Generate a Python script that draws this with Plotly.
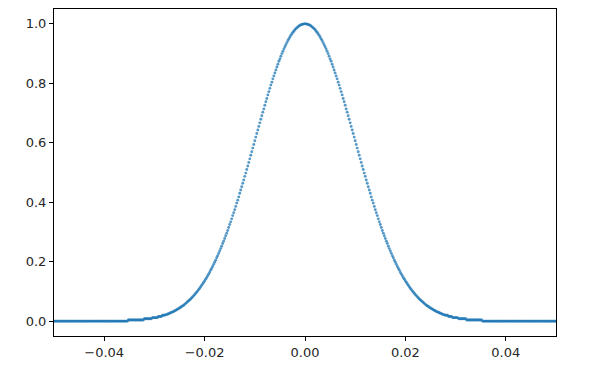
import plotly.graph_objects as go

# sample positions (x) and normalised intensity
position = [
    -0.05, -0.0498, -0.0496, -0.0494, -0.0492, -0.049, -0.0488, -0.0486, -0.0484, -0.0482,
    -0.048, -0.0478, -0.0476, -0.0474, -0.0472, -0.047, -0.0468, -0.0466, -0.0464, -0.0462,
    -0.046, -0.0458, -0.0456, -0.0454, -0.0452, -0.045, -0.0448, -0.0446, -0.0444, -0.0442,
    -0.044, -0.0438, -0.0436, -0.0434, -0.0432, -0.043, -0.0428, -0.0426, -0.0424, -0.0422,
    -0.042, -0.0418, -0.0416, -0.0414, -0.0412, -0.041, -0.0408, -0.0406, -0.0404, -0.0402,
    -0.04, -0.0398, -0.0396, -0.0394, -0.0392, -0.039, -0.0388, -0.0386, -0.0384, -0.0382,
    -0.038, -0.0378, -0.0376, -0.0374, -0.0372, -0.037, -0.0368, -0.0366, -0.0364, -0.0362,
    -0.036, -0.0358, -0.0356, -0.0354, -0.0352, -0.035, -0.0348, -0.0346, -0.0344, -0.0342,
    -0.034, -0.0338, -0.0336, -0.0334, -0.0332, -0.033, -0.0328, -0.0326, -0.0324, -0.0322,
    -0.032, -0.0318, -0.0316, -0.0314, -0.0312, -0.031, -0.0308, -0.0306, -0.0304, -0.0302,
    -0.03, -0.0298, -0.0296, -0.0294, -0.0292, -0.029, -0.0288, -0.0286, -0.0284, -0.0282,
    -0.028, -0.0278, -0.0276, -0.0274, -0.0272, -0.027, -0.0268, -0.0266, -0.0264, -0.0262,
    -0.026, -0.0258, -0.0256, -0.0254, -0.0252, -0.025, -0.0248, -0.0246, -0.0244, -0.0242,
    -0.024, -0.0238, -0.0236, -0.0234, -0.0232, -0.023, -0.0228, -0.0226, -0.0224, -0.0222,
    -0.022, -0.0218, -0.0216, -0.0214, -0.0212, -0.021, -0.0208, -0.0206, -0.0204, -0.0202,
    -0.02, -0.0198, -0.0196, -0.0194, -0.0192, -0.019, -0.0188, -0.0186, -0.0184, -0.0182,
    -0.018, -0.0178, -0.0176, -0.0174, -0.0172, -0.017, -0.0168, -0.0166, -0.0164, -0.0162,
    -0.016, -0.0158, -0.0156, -0.0154, -0.0152, -0.015, -0.0148, -0.0146, -0.0144, -0.0142,
    -0.014, -0.0138, -0.0136, -0.0134, -0.0132, -0.013, -0.0128, -0.0126, -0.0124, -0.0122,
    -0.012, -0.0118, -0.0116, -0.0114, -0.0112, -0.011, -0.0108, -0.0106, -0.0104, -0.0102,
    -0.01, -0.0098, -0.0096, -0.0094, -0.0092, -0.009, -0.0088, -0.0086, -0.0084, -0.0082,
    -0.008, -0.0078, -0.0076, -0.0074, -0.0072, -0.007, -0.0068, -0.0066, -0.0064, -0.0062,
    -0.006, -0.0058, -0.0056, -0.0054, -0.0052, -0.005, -0.0048, -0.0046, -0.0044, -0.0042,
    -0.004, -0.0038, -0.0036, -0.0034, -0.0032, -0.003, -0.0028, -0.0026, -0.0024, -0.0022,
    -0.002, -0.0018, -0.0016, -0.0014, -0.0012, -0.001, -0.0008, -0.0006, -0.0004, -0.0002,
    0.0,
    0.0002, 0.0004, 0.0006, 0.0008, 0.001, 0.0012, 0.0014, 0.0016, 0.0018, 0.002,
    0.0022, 0.0024, 0.0026, 0.0028, 0.003, 0.0032, 0.0034, 0.0036, 0.0038, 0.004,
    0.0042, 0.0044, 0.0046, 0.0048, 0.005, 0.0052, 0.0054, 0.0056, 0.0058, 0.006,
    0.0062, 0.0064, 0.0066, 0.0068, 0.007, 0.0072, 0.0074, 0.0076, 0.0078, 0.008,
    0.0082, 0.0084, 0.0086, 0.0088, 0.009, 0.0092, 0.0094, 0.0096, 0.0098, 0.01,
    0.0102, 0.0104, 0.0106, 0.0108, 0.011, 0.0112, 0.0114, 0.0116, 0.0118, 0.012,
    0.0122, 0.0124, 0.0126, 0.0128, 0.013, 0.0132, 0.0134, 0.0136, 0.0138, 0.014,
    0.0142, 0.0144, 0.0146, 0.0148, 0.015, 0.0152, 0.0154, 0.0156, 0.0158, 0.016,
    0.0162, 0.0164, 0.0166, 0.0168, 0.017, 0.0172, 0.0174, 0.0176, 0.0178, 0.018,
    0.0182, 0.0184, 0.0186, 0.0188, 0.019, 0.0192, 0.0194, 0.0196, 0.0198, 0.02,
    0.0202, 0.0204, 0.0206, 0.0208, 0.021, 0.0212, 0.0214, 0.0216, 0.0218, 0.022,
    0.0222, 0.0224, 0.0226, 0.0228, 0.023, 0.0232, 0.0234, 0.0236, 0.0238, 0.024,
    0.0242, 0.0244, 0.0246, 0.0248, 0.025, 0.0252, 0.0254, 0.0256, 0.0258, 0.026,
    0.0262, 0.0264, 0.0266, 0.0268, 0.027, 0.0272, 0.0274, 0.0276, 0.0278, 0.028,
    0.0282, 0.0284, 0.0286, 0.0288, 0.029, 0.0292, 0.0294, 0.0296, 0.0298, 0.03,
    0.0302, 0.0304, 0.0306, 0.0308, 0.031, 0.0312, 0.0314, 0.0316, 0.0318, 0.032,
    0.0322, 0.0324, 0.0326, 0.0328, 0.033, 0.0332, 0.0334, 0.0336, 0.0338, 0.034,
    0.0342, 0.0344, 0.0346, 0.0348, 0.035, 0.0352, 0.0354, 0.0356, 0.0358, 0.036,
    0.0362, 0.0364, 0.0366, 0.0368, 0.037, 0.0372, 0.0374, 0.0376, 0.0378, 0.038,
    0.0382, 0.0384, 0.0386, 0.0388, 0.039, 0.0392, 0.0394, 0.0396, 0.0398, 0.04,
    0.0402, 0.0404, 0.0406, 0.0408, 0.041, 0.0412, 0.0414, 0.0416, 0.0418, 0.042,
    0.0422, 0.0424, 0.0426, 0.0428, 0.043, 0.0432, 0.0434, 0.0436, 0.0438, 0.044,
    0.0442, 0.0444, 0.0446, 0.0448, 0.045, 0.0452, 0.0454, 0.0456, 0.0458, 0.046,
    0.0462, 0.0464, 0.0466, 0.0468, 0.047, 0.0472, 0.0474, 0.0476, 0.0478, 0.048,
    0.0482, 0.0484, 0.0486, 0.0488, 0.049, 0.0492, 0.0494, 0.0496, 0.0498, 0.05,
]

intensity = [
    0, 0, 0, 0, 0, 0, 0, 0, 0, 0,
    0, 0, 0, 0, 0, 0, 0, 0, 0, 0,
    0, 0, 0, 0, 0, 0, 0, 0, 0, 0,
    0, 0, 0, 0, 0, 0, 0, 0, 0, 0,
    0, 0, 0, 0, 0, 0, 0, 0, 0, 0,
    0, 0, 0, 0, 0, 0, 0, 0, 0, 0,
    0, 0, 0, 0, 0, 0, 0, 0, 0, 0,
    0, 0, 0, 0, 0.0039, 0.0039, 0.0039, 0.0039, 0.0039, 0.0039,
    0.0039, 0.0039, 0.0039, 0.0039, 0.0039, 0.0039, 0.0039, 0.0039, 0.0039, 0.0039,
    0.0078, 0.0078, 0.0078, 0.0078, 0.0078, 0.0078, 0.0078, 0.0078, 0.0118, 0.0118,
    0.0118, 0.0118, 0.0118, 0.0118, 0.0157, 0.0157, 0.0157, 0.0157, 0.0196, 0.0196,
    0.0196, 0.021, 0.022, 0.023, 0.025, 0.026, 0.028, 0.029, 0.031, 0.032,
    0.034, 0.036, 0.038, 0.040, 0.042, 0.044, 0.046, 0.049, 0.051, 0.053,
    0.056, 0.059, 0.062, 0.065, 0.068, 0.071, 0.074, 0.078, 0.081, 0.085,
    0.089, 0.093, 0.097, 0.101, 0.106, 0.110, 0.115, 0.120, 0.125, 0.130,
    0.135, 0.141, 0.146, 0.152, 0.158, 0.164, 0.171, 0.177, 0.184, 0.191,
    0.198, 0.205, 0.213, 0.220, 0.228, 0.236, 0.244, 0.252, 0.261, 0.269,
    0.278, 0.287, 0.296, 0.305, 0.315, 0.325, 0.334, 0.344, 0.355, 0.365,
    0.375, 0.386, 0.397, 0.407, 0.418, 0.430, 0.441, 0.452, 0.464, 0.475,
    0.487, 0.498, 0.510, 0.522, 0.534, 0.546, 0.558, 0.570, 0.582, 0.594,
    0.607, 0.619, 0.631, 0.643, 0.655, 0.667, 0.679, 0.691, 0.703, 0.714,
    0.726, 0.738, 0.749, 0.761, 0.772, 0.783, 0.794, 0.804, 0.815, 0.825,
    0.835, 0.845, 0.855, 0.864, 0.874, 0.882, 0.891, 0.900, 0.908, 0.916,
    0.923, 0.930, 0.937, 0.944, 0.950, 0.956, 0.962, 0.967, 0.972, 0.976,
    0.980, 0.984, 0.987, 0.990, 0.993, 0.995, 0.997, 0.998, 0.999, 1.000,
    1.000,
    1.000, 0.999, 0.998, 0.997, 0.995, 0.993, 0.990, 0.987, 0.984, 0.980,
    0.976, 0.972, 0.967, 0.962, 0.956, 0.950, 0.944, 0.937, 0.930, 0.923,
    0.916, 0.908, 0.900, 0.891, 0.882, 0.874, 0.864, 0.855, 0.845, 0.835,
    0.825, 0.815, 0.804, 0.794, 0.783, 0.772, 0.761, 0.749, 0.738, 0.726,
    0.714, 0.703, 0.691, 0.679, 0.667, 0.655, 0.643, 0.631, 0.619, 0.607,
    0.594, 0.582, 0.570, 0.558, 0.546, 0.534, 0.522, 0.510, 0.498, 0.487,
    0.475, 0.464, 0.452, 0.441, 0.430, 0.418, 0.407, 0.397, 0.386, 0.375,
    0.365, 0.355, 0.344, 0.334, 0.325, 0.315, 0.305, 0.296, 0.287, 0.278,
    0.269, 0.261, 0.252, 0.244, 0.236, 0.228, 0.220, 0.213, 0.205, 0.198,
    0.191, 0.184, 0.177, 0.171, 0.164, 0.158, 0.152, 0.146, 0.141, 0.135,
    0.130, 0.125, 0.120, 0.115, 0.110, 0.106, 0.101, 0.097, 0.093, 0.089,
    0.085, 0.081, 0.078, 0.074, 0.071, 0.068, 0.065, 0.062, 0.059, 0.056,
    0.053, 0.051, 0.049, 0.046, 0.044, 0.042, 0.040, 0.038, 0.036, 0.034,
    0.032, 0.031, 0.029, 0.028, 0.026, 0.025, 0.023, 0.022, 0.021, 0.0196,
    0.0196, 0.0196, 0.0157, 0.0157, 0.0157, 0.0157, 0.0118, 0.0118, 0.0118, 0.0118,
    0.0118, 0.0118, 0.0078, 0.0078, 0.0078, 0.0078, 0.0078, 0.0078, 0.0078, 0.0078,
    0.0039, 0.0039, 0.0039, 0.0039, 0.0039, 0.0039, 0.0039, 0.0039, 0.0039, 0.0039,
    0.0039, 0.0039, 0.0039, 0.0039, 0.0039, 0.0039, 0, 0, 0, 0,
    0, 0, 0, 0, 0, 0, 0, 0, 0, 0,
    0, 0, 0, 0, 0, 0, 0, 0, 0, 0,
    0, 0, 0, 0, 0, 0, 0, 0, 0, 0,
    0, 0, 0, 0, 0, 0, 0, 0, 0, 0,
    0, 0, 0, 0, 0, 0, 0, 0, 0, 0,
    0, 0, 0, 0, 0, 0, 0, 0, 0, 0,
    0, 0, 0, 0, 0, 0, 0, 0, 0, 0,
]

x_tick_values = [-0.04, -0.02, 0.0, 0.02, 0.04]
x_tick_labels = ["\u22120.04", "\u22120.02", "0.00", "0.02", "0.04"]
y_tick_values = [0.0, 0.2, 0.4, 0.6, 0.8, 1.0]
y_tick_labels = ["0.0", "0.2", "0.4", "0.6", "0.8", "1.0"]

fig = go.Figure()
fig.add_trace(go.Scatter(
    x=position, y=intensity, mode="markers",
    marker=dict(color="#1f77b4", size=2.9, opacity=0.75, line=dict(width=0)),
    showlegend=False, hoverinfo="skip",
))

axis_common = dict(
    showline=True, linecolor="black", linewidth=1, mirror=True,
    ticks="outside", ticklen=4, tickwidth=1, tickcolor="black",
    showgrid=False, zeroline=False,
    tickfont=dict(family="DejaVu Sans", size=13, color="#262626"),
)

fig.update_layout(
    width=595, height=379,
    margin=dict(l=54, r=39, t=9, b=43),
    paper_bgcolor="white", plot_bgcolor="white",
    xaxis=dict(range=[-0.05, 0.05], tickmode="array",
               tickvals=x_tick_values, ticktext=x_tick_labels, **axis_common),
    yaxis=dict(range=[-0.05, 1.05], tickmode="array",
               tickvals=y_tick_values, ticktext=y_tick_labels, **axis_common),
)

fig.write_html("out.html")
